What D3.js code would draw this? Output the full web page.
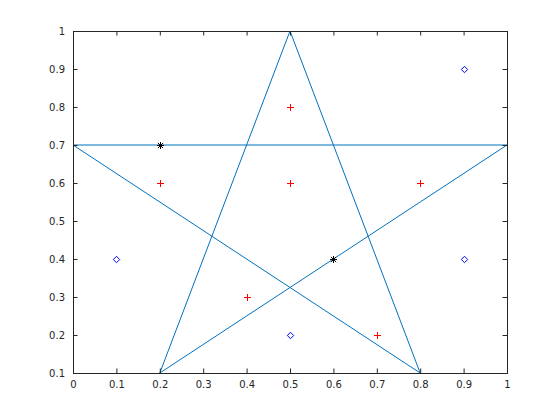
<!DOCTYPE html>
<html><head><meta charset="utf-8">
<script src="https://cdn.jsdelivr.net/npm/d3@7"></script>
<style>body{margin:0;background:#fff}svg{display:block}</style>
</head><body><svg id="c" width="560" height="420"></svg>
<script>
const starX = [0.5, 0.8, 0, 1, 0.2, 0.5];
const starY = [1, 0.1, 0.7, 0.7, 0.1, 1];
const plusX = [0.2, 0.5, 0.5, 0.8, 0.4, 0.7];
const plusY = [0.6, 0.8, 0.6, 0.6, 0.3, 0.2];
const starMarkX = [0.2, 0.6];
const starMarkY = [0.7, 0.4];
const diamondX = [0.9, 0.1, 0.9, 0.5];
const diamondY = [0.9, 0.4, 0.4, 0.2];
const xTicks = [0, 0.1, 0.2, 0.3, 0.4, 0.5, 0.6, 0.7, 0.8, 0.9, 1];
const yTicks = [0.1, 0.2, 0.3, 0.4, 0.5, 0.6, 0.7, 0.8, 0.9, 1];

const svg = d3.select("#c");
const L = 73, R = 507, T = 31, B = 373;
const x = d3.scaleLinear().domain([0, 1]).range([L, R]);
const y = d3.scaleLinear().domain([0.1, 1]).range([B, T]);
const axc = "#262626";
const font = "DejaVu Sans, sans-serif";

// star polyline
const line = d3.line().x(i => x(starX[i])).y(i => y(starY[i]));
svg.append("path").attr("d", line(d3.range(starX.length)))
  .attr("fill", "none").attr("stroke", "#0072BD").attr("stroke-width", 1);

// axes
function styleAxis(g) {
  g.select(".domain").remove();
  g.selectAll("line").attr("stroke", axc);
  g.selectAll("text").attr("fill", axc).style("font-family", font).style("font-size", "10px");
}
const fmt = d => String(d);
svg.append("g").attr("transform", `translate(0,${B})`)
  .call(d3.axisBottom(x).tickValues(xTicks).tickFormat(fmt).tickSizeInner(-4.5).tickSizeOuter(0).tickPadding(8))
  .call(styleAxis);
svg.append("g").attr("transform", `translate(0,${T})`)
  .call(d3.axisTop(x).tickValues(xTicks).tickFormat("").tickSizeInner(-4.5).tickSizeOuter(0))
  .call(styleAxis);
svg.append("g").attr("transform", `translate(${L},0)`)
  .call(d3.axisLeft(y).tickValues(yTicks).tickFormat(fmt).tickSizeInner(-4.5).tickSizeOuter(0).tickPadding(8))
  .call(styleAxis);
svg.append("g").attr("transform", `translate(${R},0)`)
  .call(d3.axisRight(y).tickValues(yTicks).tickFormat("").tickSizeInner(-4.5).tickSizeOuter(0))
  .call(styleAxis);
svg.append("rect").attr("x", L + 0.5).attr("y", T + 0.5).attr("width", R - L).attr("height", B - T)
  .attr("fill", "none").attr("stroke", axc).attr("stroke-width", 1);

// markers
const s = 3.5;
const mk = svg.append("g").attr("class", "markers");
const plusG = mk.selectAll("g.plus").data(d3.range(plusX.length)).join("g")
  .attr("class", "plus")
  .attr("transform", i => `translate(${Math.round(x(plusX[i]))},${Math.round(y(plusY[i]))})`);
plusG.append("rect").attr("x", -3).attr("y", 0).attr("width", 7).attr("height", 1).attr("fill", "#ff0000");
plusG.append("rect").attr("x", 0).attr("y", -3).attr("width", 1).attr("height", 7).attr("fill", "#ff0000");

starMarkX.forEach((v, i) => {
  const cx = Math.round(x(v)) + 0.5, cy = Math.round(y(starMarkY[i])) + 0.5;
  const a = 2.6;
  mk.append("path").attr("d", `M${cx - s},${cy}H${cx + s}M${cx},${cy - s}V${cy + s}M${cx - a},${cy - a}L${cx + a},${cy + a}M${cx - a},${cy + a}L${cx + a},${cy - a}`)
    .attr("stroke", "#000").attr("stroke-width", 1).attr("fill", "none");
});
diamondX.forEach((v, i) => {
  const cx = Math.round(x(v)) + 0.5, cy = Math.round(y(diamondY[i])) + 0.5;
  const d = 3.2;
  mk.append("path").attr("d", `M${cx},${cy - d}L${cx + d},${cy}L${cx},${cy + d}L${cx - d},${cy}Z`)
    .attr("stroke", "rgb(0,0,255)").attr("stroke-width", 1).attr("fill", "none");
});
</script></body></html>
